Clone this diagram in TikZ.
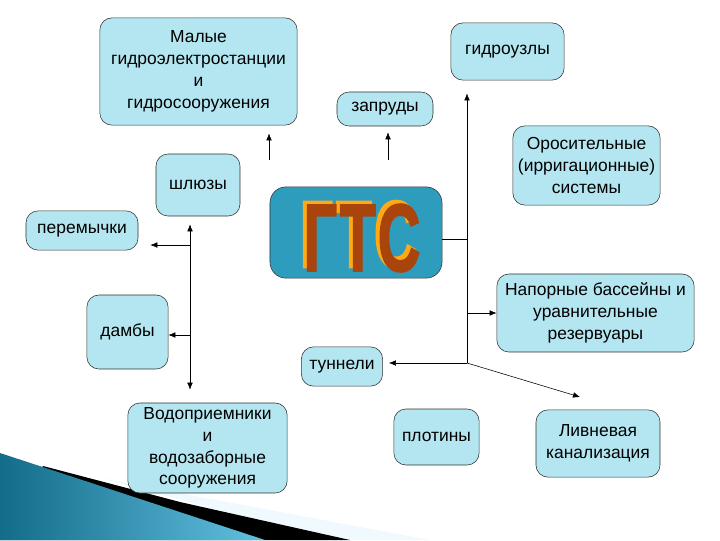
\documentclass[tikz,border=0pt]{standalone}
\usepackage{fontspec}
\setmainfont{Liberation Sans}
\newfontfamily\gtsfont[FakeBold=2]{Liberation Sans Bold}
\usepackage{tikz}
\usetikzlibrary{arrows.meta, shapes.misc}

\definecolor{boxfill}{RGB}{180,230,241}
\definecolor{gtsfill}{RGB}{46,157,189}
\definecolor{letterlight}{RGB}{255,170,20}
\definecolor{letterside}{RGB}{168,68,12}

\newcommand{\gtsword}{Г\kern3pt Т\kern2pt С}

\tikzset{
    item/.style={draw=black!80, fill=boxfill, rounded corners=0.3cm, inner sep=0pt,
        align=center, font=\fontsize{12.4}{15.5}\selectfont},
    arr/.style={-{Latex[length=5pt,width=4pt]}, thin},
    gtsletters/.style={inner sep=0pt, xscale=0.62, font=\gtsfont\fontsize{68}{68}\selectfont}
}

\begin{document}
\begin{tikzpicture}[x=0.025cm, y=-0.025cm]
            \useasboundingbox (0,0) rectangle (720,540);

            % slide decoration
            \fill[cyan!6] (100,478) -- (430,540) -- (330,540) -- cycle;
            \fill[black] (43,466) -- (180,502) -- (350,540) -- (0,540) -- cycle;
            \shade[left color={rgb,255:red,18;green,108;blue,138}, right color={rgb,255:red,98;green,192;blue,222}]
                (0,453) -- (265,540) -- (0,540) -- cycle;

            \node[item, minimum width=4.93cm, minimum height=2.68cm] (maly) at (198.5,71.5) {Малые\\ гидроэлектростанции\\ и\\ гидросооружения};
            \node[item, minimum width=2.1cm, minimum height=1.55cm] (shluzy) at (198,185) {шлюзы};
            \node[item, minimum width=2.8cm, minimum height=0.98cm] (peremychki) at (82,230.5) {перемычки};
            \node[item, minimum width=2.4cm, minimum height=0.85cm] (zaprudy) at (385,109) {запруды};
            \node[item, minimum width=2.83cm, minimum height=1.43cm] (gidrouzly) at (507.5,51.5) {гидроузлы};
            \node[item, minimum width=3.68cm, minimum height=1.98cm] (oros) at (586.5,165.5) {Оросительные\\ (ирригационные)\\ системы};
            \node[item, minimum width=4.93cm, minimum height=1.95cm] (napor) at (595.5,313) {Напорные бассейны и\\ уравнительные\\ резервуары};
            \node[item, minimum width=2.03cm, minimum height=0.98cm] (tunneli) at (342,366.5) {туннели};
            \node[item, minimum width=2.13cm, minimum height=1.4cm] (plotiny) at (436.5,437) {плотины};
            \node[item, minimum width=3.1cm, minimum height=1.68cm] (livn) at (598,443.5) {Ливневая\\ канализация};
            \node[item, minimum width=2.03cm, minimum height=1.85cm] (damby) at (127.5,332) {дамбы};
            \node[item, minimum width=3.98cm, minimum height=2.25cm] (vodopr) at (207.5,448) {Водоприемники\\ и\\ водозаборные\\ сооружения};

            % central block
            \node[draw=black!80, fill=gtsfill, rounded corners=0.4cm, minimum width=4.3cm, minimum height=2.28cm] (gts) at (356,232.5) {};
            \node[gtsletters, text=letterlight] (gtslight) at (358,234.5) {\gtsword};
            \node[gtsletters, text=letterside] (gtstext) at (362,238) {\gtsword};

            % left branch
            \coordinate (l1) at (190,245);
            \coordinate (l2) at (190,335);
            \draw[arr, shorten >=0.2cm] (l1) -- (l1 |- shluzy.south);
            \draw[arr, shorten >=0.3cm] (l1) -- (l1 -| peremychki.east);
            \draw[arr] (l2) -- (l2 -| damby.east);
            \draw[arr, shorten >=0.325cm] (l1) -- (l1 |- vodopr.north);

            % upper arrows
            \coordinate (u1) at (269,160);
            \coordinate (u2) at (388,160);
            \draw[arr, shorten >=0.2cm] (u1) -- (u1 |- maly.south);
            \draw[arr, shorten >=0.15cm] (u2) -- (u2 |- zaprudy.south);

            % right branch
            \coordinate (r0) at (467,239);
            \coordinate (r1) at (467,363);
            \coordinate (r2) at (467,313);
            \coordinate (r3) at (580,397);
            \draw (r0) -- (r0 -| gts.east);
            \draw[arr, shorten >=0.325cm] (r1) -- (r1 |- gidrouzly.south);
            \draw[arr] (r2) -- (r2 -| napor.west);
            \draw[arr, shorten >=0.15cm] (r1) -- (r1 -| tunneli.east);
            \draw[arr] (r1) -- (r3);
        \end{tikzpicture}
\end{document}
